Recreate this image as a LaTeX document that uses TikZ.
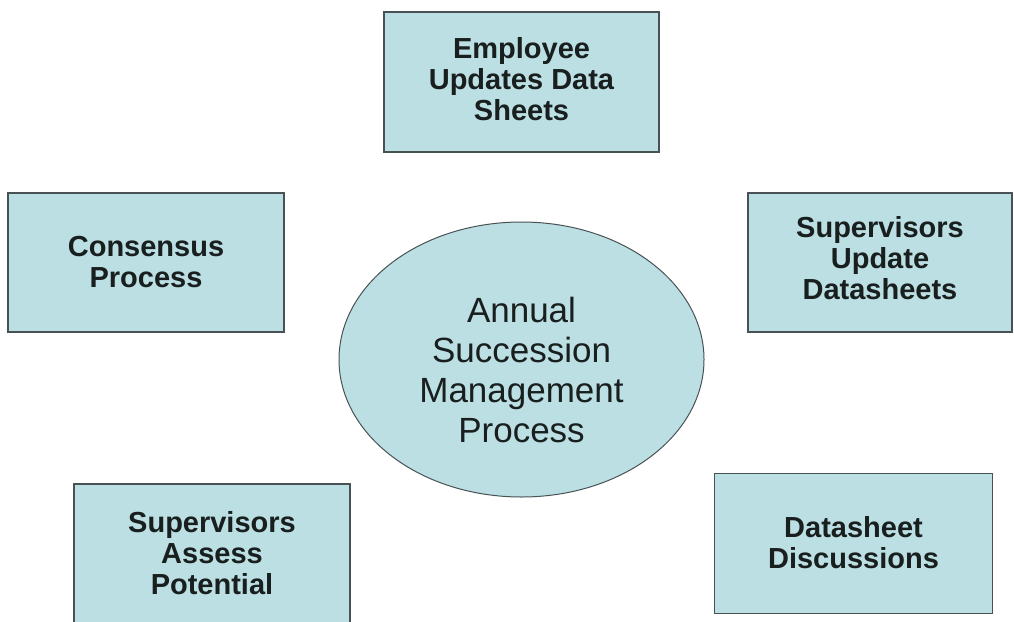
\documentclass[tikz,border=0pt]{standalone}
\usepackage{fontspec}
\setmainfont{Liberation Sans}
\usetikzlibrary{shapes.geometric}
\definecolor{boxfill}{RGB}{187,223,227}
\definecolor{boxline}{RGB}{72,82,84}
\definecolor{txt}{RGB}{25,30,30}
\begin{document}
\begin{tikzpicture}[x=1pt,y=-1pt,
  stagebox/.style={draw=boxline,fill=boxfill,line width=1.2pt,inner sep=0pt},
  stagetext/.style={align=center,text=txt,inner sep=0pt,
    font=\bfseries\fontsize{29}{31}\selectfont},
  hub/.style={ellipse,draw=boxline,fill=boxfill,line width=1pt,inner sep=0pt},
  hubtext/.style={align=center,text=txt,inner sep=0pt,
    font=\fontsize{35}{40}\selectfont}]
\useasboundingbox (0,0) rectangle (1014,621);
\clip (0,0) rectangle (1014,621);
\fill[white] (0,0) rectangle (1014,621);
% central process
\node[hub,minimum width=365,minimum height=275] (hub) at (521.5,359.5) {};
\node[hubtext] (hubtxt) at ([yshift=-10pt]hub.center)
  {Annual\\Succession\\Management\\Process};
% surrounding stages
\node[stagebox,minimum width=275,minimum height=140] (emp) at (521.5,82) {};
\node[stagetext] (emptxt) at ([yshift=3pt]emp.center)
  {Employee\\Updates Data\\Sheets};
\node[stagebox,minimum width=276,minimum height=139] (cons) at (146,262.5) {};
\node[stagetext] (constxt) at ([yshift=0pt]cons.center)
  {Consensus\\Process};
\node[stagebox,minimum width=264,minimum height=139] (sup) at (880,262.5) {};
\node[stagetext] (suptxt) at ([yshift=4pt]sup.center)
  {Supervisors\\Update\\Datasheets};
\node[stagebox,minimum width=276,minimum height=150] (assess) at (212,559) {};
\node[stagetext] (assesstxt) at (212,553)
  {Supervisors\\Assess\\Potential};
\node[stagebox,minimum width=278,minimum height=140] (disc) at (853.5,543.5) {};
\node[stagetext] (disctxt) at ([yshift=1pt]disc.center)
  {Datasheet\\Discussions};
\end{tikzpicture}
\end{document}
